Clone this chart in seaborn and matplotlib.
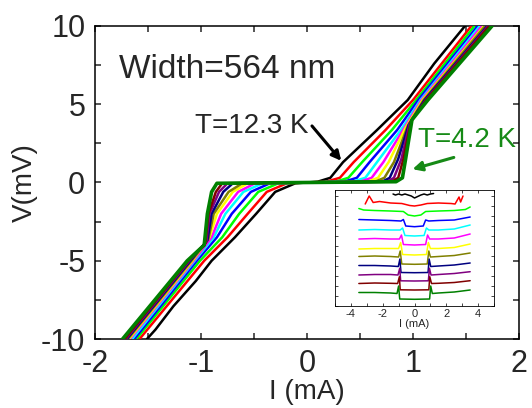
import matplotlib
matplotlib.use("Agg")
import matplotlib.pyplot as plt
from matplotlib.ticker import MultipleLocator
import seaborn as sns

# ==============================================================================: DATA
# main panel: I (mA) vs V (mV), from T=12.3 K (black) down to T=4.2 K (green)
curve_colors = ["black", "red", "#00ff00", "blue", "cyan", "magenta",
                "yellow", "#808000", "#000080", "#800080", "#800000", "#008000"]

iv_current = [
    [-1.51, -1.43, -1.26, -1.05, -0.90, -0.68, -0.48, -0.30, -0.11, 0.10, 0.22, 0.34, 0.66, 0.95, 1.20, 1.49],
    [-1.58, -0.97, -0.75, -0.56, -0.38, -0.19, 0.18, 0.31, 0.44, 0.74, 1.00, 1.55],
    [-1.61, -1.01, -0.80, -0.64, -0.46, -0.27, 0.27, 0.39, 0.52, 0.80, 1.03, 1.58],
    [-1.63, -1.04, -0.85, -0.71, -0.53, -0.35, 0.35, 0.47, 0.59, 0.85, 1.05, 1.61],
    [-1.65, -1.06, -0.88, -0.77, -0.60, -0.42, 0.43, 0.55, 0.66, 0.89, 1.07, 1.63],
    [-1.67, -1.07, -0.90, -0.81, -0.65, -0.49, 0.50, 0.61, 0.72, 0.91, 1.08, 1.65],
    [-1.68, -1.08, -0.92, -0.85, -0.70, -0.56, 0.57, 0.67, 0.77, 0.93, 1.09, 1.67],
    [-1.69, -1.09, -0.93, -0.88, -0.74, -0.61, 0.64, 0.73, 0.82, 0.95, 1.10, 1.68],
    [-1.70, -1.10, -0.94, -0.90, -0.79, -0.70, 0.71, 0.78, 0.86, 0.96, 1.11, 1.70],
    [-1.71, -1.11, -0.95, -0.92, -0.83, -0.75, 0.76, 0.82, 0.89, 0.97, 1.12, 1.71],
    [-1.72, -1.12, -0.96, -0.93, -0.86, -0.80, 0.80, 0.86, 0.91, 0.98, 1.125, 1.72],
    [-1.74, -1.13, -0.97, -0.94, -0.90, -0.85, 0.84, 0.90, 0.93, 0.99, 1.14, 1.745],
]
iv_voltage = [
    [-10, -9.4, -7.9, -6.3, -5.0, -3.5, -2.0, -0.6, -0.05, 0.05, 0.3, 1.3, 3.35, 5.27, 7.6, 10],
    [-10, -5.0, -3.5, -2.0, -0.6, -0.05, 0.05, 0.3, 1.3, 3.35, 5.27, 10],
    [-10, -5.0, -3.5, -2.0, -0.6, -0.05, 0.05, 0.3, 1.3, 3.35, 5.27, 10],
    [-10, -5.0, -3.5, -2.0, -0.6, -0.05, 0.05, 0.3, 1.3, 3.35, 5.27, 10],
    [-10, -5.0, -3.5, -2.0, -0.6, -0.05, 0.05, 0.3, 1.3, 3.4, 5.27, 10],
    [-10, -5.0, -3.5, -2.0, -0.6, -0.05, 0.05, 0.3, 1.3, 3.4, 5.27, 10],
    [-10, -5.0, -3.5, -2.0, -0.6, -0.05, 0.05, 0.3, 1.3, 3.5, 5.27, 10],
    [-10, -5.0, -3.6, -2.0, -0.6, -0.05, 0.05, 0.3, 1.3, 3.6, 5.27, 10],
    [-10, -5.0, -3.7, -2.0, -0.6, -0.05, 0.05, 0.3, 1.5, 3.7, 5.27, 10],
    [-10, -5.0, -3.8, -2.0, -0.6, -0.05, 0.05, 0.3, 1.5, 3.8, 5.27, 10],
    [-10, -5.0, -3.9, -2.0, -0.6, -0.05, 0.05, 0.3, 1.5, 3.9, 5.27, 10],
    [-10, -5.0, -4.0, -2.0, -0.6, -0.05, 0.05, 0.3, 1.5, 4.0, 5.27, 10],
]

# inset: dV/dI vs I (mA), curves stacked with offsets (arb. units)
inset_current = [
    [-1.35, -1.2, -1.0, -0.8, -0.6, -0.4, -0.2, 0.0, 0.2, 0.4, 0.6, 0.8, 1.0, 1.2],
    [-3.1, -2.85, -2.6, -2.2, -1.5, -0.8, -0.3, 0.0, 0.4, 0.8, 1.5, 2.3, 2.55, 2.8, 2.9, 3.05],
    [-3.5, -3.2, -2.5, -1.5, -0.7, -0.4, 0.0, 0.4, 0.7, 1.5, 2.5, 3.2, 3.5],
    [-3.5, -2.5, -1.5, -0.85, -0.7, -0.55, 0.0, 0.55, 0.7, 0.9, 1.5, 2.5, 3.5],
    [-3.5, -2.5, -1.5, -0.9, -0.75, -0.6, 0.0, 0.6, 0.75, 0.9, 1.5, 2.5, 3.5],
    [-3.5, -2.5, -1.5, -0.95, -0.82, -0.7, 0.0, 0.7, 0.82, 0.95, 1.5, 2.5, 3.5],
    [-3.5, -2.5, -1.5, -1.0, -0.87, -0.75, 0.0, 0.75, 0.87, 1.0, 1.5, 2.5, 3.5],
    [-3.5, -2.5, -1.5, -1.0, -0.9, -0.8, 0.0, 0.8, 0.9, 1.0, 1.5, 2.5, 3.5],
    [-3.5, -2.5, -1.5, -1.02, -0.92, -0.85, 0.0, 0.85, 0.92, 1.02, 1.5, 2.5, 3.5],
    [-3.5, -2.5, -1.5, -1.04, -0.93, -0.87, 0.0, 0.87, 0.94, 1.04, 1.5, 2.5, 3.5],
    [-3.5, -2.5, -1.5, -1.06, -0.95, -0.9, 0.0, 0.9, 0.96, 1.07, 1.5, 2.5, 3.5],
    [-3.5, -2.5, -1.5, -1.1, -1.0, -0.93, 0.0, 0.95, 1.02, 1.12, 1.5, 2.5, 3.5],
]
inset_dvdi = [
    [112, 111, 112, 111, 112, 111, 110, 108, 109.5, 111, 112, 111, 112, 112.5],
    [102, 110, 103.5, 104.5, 103, 102.5, 100.5, 100, 101, 102.5, 103, 102.5, 102, 109, 104, 110],
    [97.5, 96, 95.5, 95, 94.5, 91, 90, 91, 94.5, 95, 95.5, 96.5, 99],
    [86.5, 86, 85.5, 85, 86.5, 80, 79.3, 80, 86, 85, 85.5, 86, 89],
    [76, 76.5, 76, 76, 78, 70.5, 70, 70.5, 78, 76, 76, 77, 81],
    [67, 67.5, 67, 67, 71, 61.5, 61, 61.5, 71, 67, 67, 68, 72],
    [57, 57.5, 57.5, 57.5, 63.5, 51.5, 51, 51.5, 63.5, 57.5, 57.5, 58.5, 62],
    [49.5, 50, 49.5, 49, 55, 42, 41.7, 42, 55, 49, 49.5, 50.5, 53],
    [40.5, 40.5, 40, 39.5, 47, 33.5, 33.3, 33.5, 47, 39.5, 40, 41, 43],
    [31, 31.5, 31.5, 31, 37.7, 25.2, 25, 25.2, 37.7, 31, 31.5, 32.5, 34.3],
    [22.5, 23, 22.7, 22.5, 29.3, 16.2, 16, 16.2, 29.3, 22.5, 22.7, 23.5, 25.3],
    [13.5, 13.5, 13, 12.5, 20, 7, 6.7, 7, 20, 12.5, 13, 14, 16],
]


# ==============================================================================: PLOT
def style_axis(ax, size, length, width):
    ax.tick_params(which="both", direction="in", top=True, right=True,
                   length=length, width=width, labelsize=size)
    for sp in ax.spines.values():
        sp.set_linewidth(width)
        sp.set_color("black")


def main():
    sns.set_style("ticks")
    plt.rcParams["font.family"] = ["Liberation Sans", "DejaVu Sans"]
    plt.rcParams["axes.unicode_minus"] = False

    fig = plt.figure(figsize=(5.32, 4.08), dpi=100)
    ax = fig.add_axes([0.1786, 0.1691, 0.797, 0.7672])

    for k, col in enumerate(curve_colors):
        lw = 2.6 if k == len(curve_colors) - 1 else 1.8
        sns.lineplot(x=iv_current[k], y=iv_voltage[k], color=col, lw=lw,
                     sort=False, estimator=None, ax=ax, zorder=2 + k)

    ax.set_xlim(-2, 2)
    ax.set_ylim(-10, 10)
    ax.xaxis.set_major_locator(MultipleLocator(1))
    ax.xaxis.set_minor_locator(MultipleLocator(0.5))
    ax.yaxis.set_major_locator(MultipleLocator(5))
    ax.yaxis.set_minor_locator(MultipleLocator(2.5))
    style_axis(ax, 22, 4.5, 1.1)
    ax.tick_params(which="both", pad=7)
    ax.set_xlabel("I (mA)", fontsize=20, labelpad=0)
    ax.set_ylabel("V(mV)", fontsize=20, labelpad=2)

    ax.text(-1.77, 7.2, "Width=564 nm", fontsize=24, ha="left", va="center")
    ax.text(-0.52, 3.6, "T=12.3 K", fontsize=20, ha="center", va="center")
    ax.annotate("", xy=(0.34, 1.25), xytext=(0.03, 3.75),
                arrowprops=dict(arrowstyle="-|>", color="black", lw=2.2,
                                mutation_scale=14), zorder=20)
    ax.text(1.51, 2.72, "T=4.2 K", fontsize=20, color="#168a16",
            ha="center", va="center", clip_on=False, zorder=20)
    ax.annotate("", xy=(0.97, 0.8), xytext=(1.41, 1.65),
                arrowprops=dict(arrowstyle="-|>", color="#168a16", lw=2.2,
                                mutation_scale=14), zorder=20)

    # inset
    ins = fig.add_axes([0.6297, 0.25, 0.2989, 0.2843])
    for k, col in enumerate(curve_colors):
        sns.lineplot(x=inset_current[k], y=inset_dvdi[k], color=col, lw=1.1,
                     sort=False, estimator=None, ax=ins)
    ins.set_xlim(-5, 5)
    ins.set_ylim(0, 116)
    ins.xaxis.set_major_locator(MultipleLocator(2))
    ins.xaxis.set_minor_locator(MultipleLocator(1))
    ins.yaxis.set_major_locator(MultipleLocator(10))
    ins.set_yticklabels([])
    style_axis(ins, 8, 2, 0.6)
    ins.tick_params(which="both", pad=2)
    ins.set_xlabel("I (mA)", fontsize=8, labelpad=0)
    ins.set_ylabel("")

    fig.savefig("out.png", dpi=100)


if __name__ == "__main__":
    main()
